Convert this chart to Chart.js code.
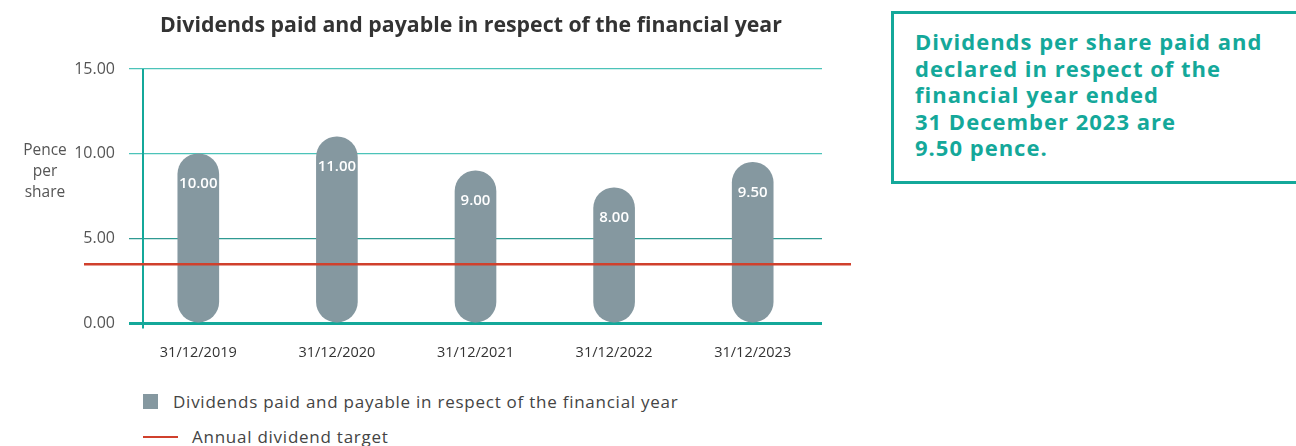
<!DOCTYPE html>
<html>
<head>
<meta charset="utf-8">
<script src="https://cdn.jsdelivr.net/npm/chart.js@4"></script>
<style>
  body { margin: 0; background: #fff; font-family: "Open Sans", sans-serif; }
  #wrap { position: relative; width: 1296px; height: 446px; overflow: hidden; }
  #chartBox { position: absolute; left: 0; top: 0; width: 870px; height: 387px; }
  #title { position: absolute; left: 141px; top: 10px; width: 660px; text-align: center; white-space: nowrap;
           font-size: 21.3px; font-weight: bold; line-height: 28px; color: #333; }
  #yTitle { position: absolute; left: 13px; top: 139px; width: 64px; text-align: center;
            font-size: 15.5px; line-height: 21px; color: #555; }
  .legend { position: absolute; left: 143px; font-size: 17px; letter-spacing: 0.75px; color: #444;
            display: flex; align-items: center; }
  .legend .sq { width: 15px; height: 15px; background: #8598a0; margin-right: 15px; }
  .legend .ln { width: 35px; height: 2px; background: #d0402c; margin-right: 14px; }
  #note { position: absolute; left: 891px; top: 11px; width: 420px; height: 173px;
          border: 3px solid #14a89a; box-sizing: border-box; }
  #note p { margin: 0; position: absolute; left: 21px; top: 14px; font-weight: bold;
            font-size: 22px; line-height: 26.5px; letter-spacing: 1px; color: #14a89a; }
</style>
</head>
<body>
<div id="wrap">
  <div id="chartBox"><canvas id="divChart"></canvas></div>
  <div id="title">Dividends paid and payable in respect of the financial year</div>
  <div id="yTitle">Pence<br>per<br>share</div>
  <div class="legend" style="top:390px"><span class="sq"></span>Dividends paid and payable in respect of the financial year</div>
  <div class="legend" style="top:425px"><span class="ln"></span>Annual dividend target</div>
  <div id="note"><p>Dividends per share paid and<br>declared in respect of the<br>financial year ended<br>31 December 2023 are<br>9.50 pence.</p></div>
</div>
<script>
const years = ['31/12/2019', '31/12/2020', '31/12/2021', '31/12/2022', '31/12/2023'];
const dividends = [10.00, 11.00, 9.00, 8.00, 9.50];
const dividendTarget = 3.5;
const yTicks = [0, 5, 10, 15];

const teal = '#14a89a';
const font = '"Open Sans", sans-serif';

// white value labels inside the top of each pill
const valueLabels = {
    id: 'valueLabels',
    afterDatasetsDraw(chart) {
        const ctx = chart.ctx;
        const meta = chart.getDatasetMeta(0);
        ctx.save();
        ctx.fillStyle = '#fff';
        ctx.font = '600 15px ' + font;
        ctx.textAlign = 'center';
        ctx.textBaseline = 'middle';
        meta.data.forEach((bar, i) => {
            ctx.fillText(dividends[i].toFixed(2), bar.x, bar.y + 30);
        });
        ctx.restore();
    }
};

// target line runs past the plot on both sides, plus the vertical axis line
const targetLine = {
    id: 'targetLine',
    beforeDatasetsDraw(chart) {
        const ctx = chart.ctx;
        const y = chart.scales.y;
        ctx.save();
        ctx.strokeStyle = teal;
        ctx.lineWidth = 2;
        ctx.beginPath();
        ctx.moveTo(143, y.getPixelForValue(15));
        ctx.lineTo(143, y.getPixelForValue(0) + 5);
        ctx.stroke();
        ctx.restore();
    },
    afterDatasetsDraw(chart) {
        const ctx = chart.ctx;
        const py = chart.scales.y.getPixelForValue(dividendTarget);
        ctx.save();
        ctx.strokeStyle = '#d0402c';
        ctx.lineWidth = 2.5;
        ctx.beginPath();
        ctx.moveTo(84, py);
        ctx.lineTo(851, py);
        ctx.stroke();
        ctx.restore();
    }
};

new Chart(document.getElementById('divChart'), {
    type: 'bar',
    data: {
        labels: years,
        datasets: [{
            label: 'Dividends paid and payable in respect of the financial year',
            data: dividends,
            backgroundColor: '#8598a0',
            barThickness: 41,
            borderRadius: 21,
            borderSkipped: false
        }]
    },
    options: {
        responsive: true,
        maintainAspectRatio: false,
        animation: false,
        layout: { padding: { top: 69, right: 48, bottom: 4 } },
        plugins: {
            legend: { display: false },
            tooltip: { enabled: false },
            title: { display: false }
        },
        scales: {
            x: {
                grid: { display: false, drawTicks: false },
                border: { display: false },
                ticks: { color: '#333', font: { family: font, size: 14.5 }, padding: 21 }
            },
            y: {
                min: 0,
                max: 15,
                afterFit(scale) { scale.width = 129; },
                afterBuildTicks(scale) { scale.ticks = yTicks.map(v => ({ value: v })); },
                border: { display: false },
                grid: {
                    drawTicks: false,
                    color: c => c.tick.value === 0 ? teal : (c.tick.value === 5 ? '#2f9a92' : '#4cc3b9'),
                    lineWidth: c => c.tick.value === 0 ? 3 : 1.2
                },
                ticks: {
                    color: '#555',
                    padding: 14,
                    font: { family: font, size: 16 },
                    callback: v => v.toFixed(2)
                }
            }
        }
    },
    plugins: [valueLabels, targetLine]
});
</script>
</body>
</html>
